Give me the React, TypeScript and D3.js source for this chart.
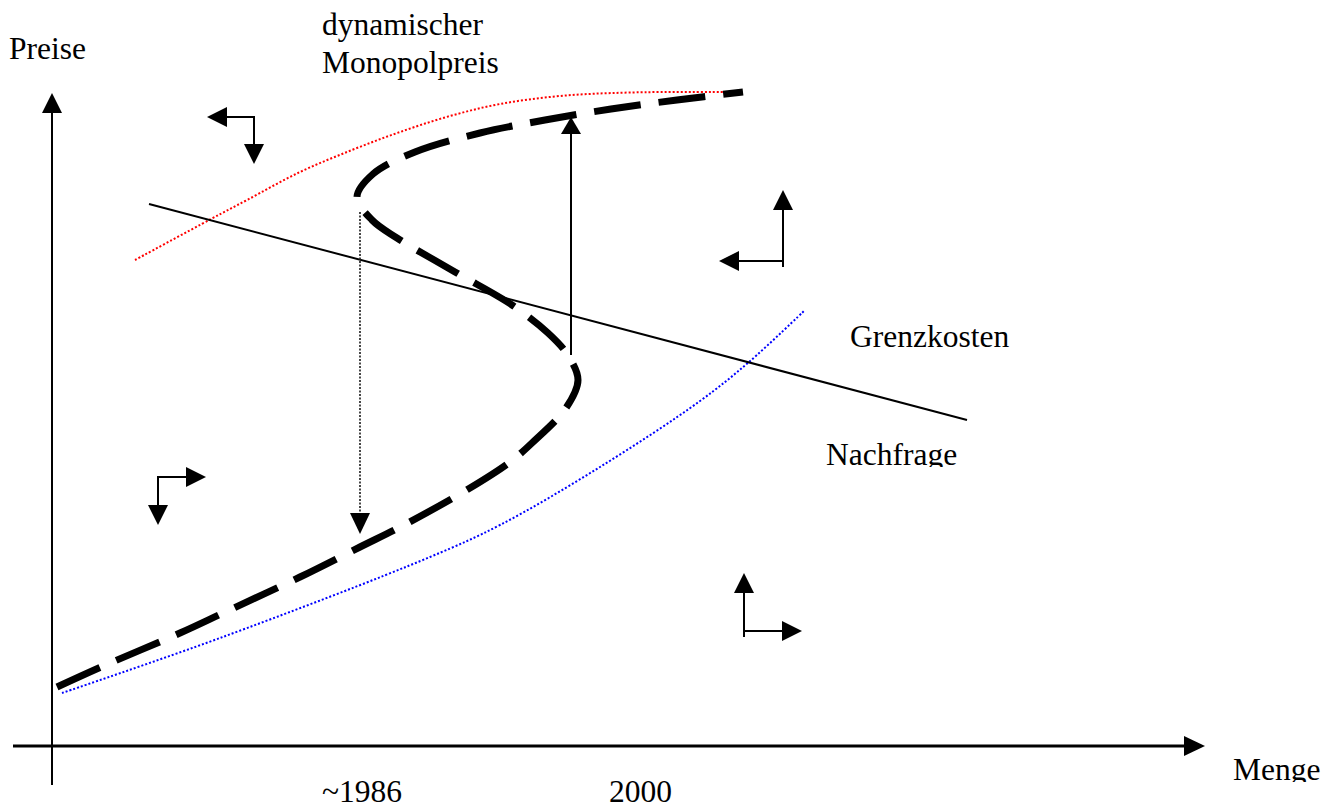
import React from "react";
import * as d3 from "d3";

// Data in chart units (Menge, Preise); origin = axes crossing
const grenzkosten: [number, number][] = [[9.7, 54.2], [91.5, 32.6]];
const monopolRed: [number, number][] = [
  [8.3, 48.6], [15.9, 52.7], [19.5, 54.6], [24.8, 57.4], [30.0, 59.6], [34.8, 61.4],
  [39.8, 63.0], [44.8, 64.2], [50.8, 65.0], [57.8, 65.35], [68.8, 65.4],
];
const nachfrageBlue: [number, number][] = [
  [1.0, 5.3], [16.8, 10.8], [37.8, 18.9], [44.8, 22.1], [54.8, 27.9], [64.8, 34.5],
  [69.7, 38.4], [75.2, 43.5],
];
const sCurve: [number, number][] = [
  [0.5, 5.9], [4.9, 7.9], [12.8, 11.3], [17.1, 13.3], [24.8, 16.9], [30.8, 19.9],
  [35.2, 22.1], [41.8, 25.8], [45.8, 28.4], [48.0, 30.3], [51.4, 33.8], [52.6, 36.6],
  [51.5, 39.2], [49.6, 41.3], [46.0, 44.1], [40.3, 47.4], [34.5, 50.8], [32.0, 52.6],
  [30.5, 54.9], [32.1, 57.2], [36.3, 59.4], [42.8, 61.3], [49.3, 62.6], [55.9, 63.7],
  [62.5, 64.6], [69.1, 65.4],
];
// vertical jump arrows: x, from y, to y (tip)
const jumpUp = { x: 51.9, y0: 39.1, y1: 62.9 };
const jumpDown = { x: 30.8, y0: 53.4, y1: 21.2 };
// corner direction arrows: corner (cx, cy), horizontal tip hx, vertical tip vy
const cornerArrows = [
  { cx: 20.2, cy: 62.9, hx: 15.5, vy: 58.2 },
  { cx: 73.1, cy: 48.5, hx: 66.7, vy: 55.6 },
  { cx: 10.6, cy: 26.9, hx: 15.4, vy: 22.1 },
  { cx: 69.2, cy: 11.5, hx: 75.0, vy: 17.3 },
];
const xTickLabels = [
  { label: "~1986", x: 27.0 },
  { label: "2000", x: 55.7 },
];

const W = 1336;
const H = 810;
const x = d3.scaleLinear().domain([0, 115.3]).range([52, 1205]);
const y = d3.scaleLinear().domain([0, 65.3]).range([746, 93]);

const FONT = "'Liberation Serif', 'Times New Roman', Times, serif";
const FS = 31.5;

function head(tx: number, ty: number, dir: "up" | "down" | "left" | "right", len = 20, hw = 10) {
  let pts: [number, number][];
  if (dir === "up") pts = [[tx, ty], [tx - hw, ty + len], [tx + hw, ty + len]];
  else if (dir === "down") pts = [[tx, ty], [tx - hw, ty - len], [tx + hw, ty - len]];
  else if (dir === "left") pts = [[tx, ty], [tx + len, ty - hw], [tx + len, ty + hw]];
  else pts = [[tx, ty], [tx - len, ty - hw], [tx - len, ty + hw]];
  return <polygon points={pts.map((p) => p.join(",")).join(" ")} fill="#000" />;
}

export default function App() {
  const smooth = d3
    .line<[number, number]>()
    .x((d) => x(d[0]))
    .y((d) => y(d[1]))
    .curve(d3.curveCatmullRom.alpha(0.5));
  const straight = d3
    .line<[number, number]>()
    .x((d) => x(d[0]))
    .y((d) => y(d[1]));

  const ox = x(0);
  const oy = y(0);

  return (
    <svg
      width={W}
      height={H}
      style={{ position: "absolute", left: 0, top: 0, background: "#fff" }}
      fontFamily={FONT}
      fontSize={FS}
    >
      <defs>
        <clipPath id="clipNachfrage">
          <rect x={0} y={0} width={W} height={467} />
        </clipPath>
        <clipPath id="clipMenge">
          <rect x={0} y={0} width={W} height={782} />
        </clipPath>
      </defs>
      <rect width={W} height={H} fill="#fff" />

      {/* axes */}
      <line x1={ox} y1={785} x2={ox} y2={y(65.3) + 18} stroke="#000" strokeWidth={2} />
      {head(ox, y(65.3), "up")}
      <line x1={13} y1={oy} x2={x(115.3) - 18} y2={oy} stroke="#000" strokeWidth={3} />
      {head(x(115.3), oy, "right", 21, 10)}

      {/* curves */}
      <path d={smooth(monopolRed) || ""} fill="none" stroke="#ff0000" strokeWidth={2} strokeDasharray="2 2" />
      <path d={smooth(nachfrageBlue) || ""} fill="none" stroke="#0000ff" strokeWidth={2} strokeDasharray="2 2" />
      <path d={straight(grenzkosten) || ""} fill="none" stroke="#000" strokeWidth={2} />
      <path d={smooth(sCurve) || ""} fill="none" stroke="#000" strokeWidth={7} strokeDasharray="47 18" />

      {/* jump arrows */}
      <line x1={x(jumpUp.x)} y1={y(jumpUp.y0)} x2={x(jumpUp.x)} y2={y(jumpUp.y1) + 16} stroke="#000" strokeWidth={2} />
      {head(x(jumpUp.x), y(jumpUp.y1), "up", 17, 10)}
      <line
        x1={x(jumpDown.x)}
        y1={y(jumpDown.y0)}
        x2={x(jumpDown.x)}
        y2={y(jumpDown.y1) - 18}
        stroke="#333"
        strokeWidth={1.8}
        strokeDasharray="2 1.5"
      />
      {head(x(jumpDown.x), y(jumpDown.y1), "down", 21, 10)}

      {/* corner arrows */}
      {cornerArrows.map((a, i) => {
        const cx = x(a.cx);
        const cy = y(a.cy);
        const hx = x(a.hx);
        const vy = y(a.vy);
        const hdir = hx < cx ? "left" : "right";
        const vdir = vy < cy ? "up" : "down";
        const hEnd = hdir === "left" ? hx + 18 : hx - 18;
        const vEnd = vdir === "up" ? vy + 18 : vy - 18;
        return (
          <g key={i}>
            <line x1={cx} y1={cy} x2={hEnd} y2={cy} stroke="#000" strokeWidth={2} />
            <line x1={cx} y1={cy + (vdir === "up" ? 6 : -1)} x2={cx} y2={vEnd} stroke="#000" strokeWidth={2} />
            {head(hx, cy, hdir as any)}
            {head(cx, vy, vdir as any)}
          </g>
        );
      })}

      {/* labels */}
      <text x={9} y={59}>Preise</text>
      <text x={322} y={35}>dynamischer</text>
      <text x={322} y={73}>Monopolpreis</text>
      <text x={850} y={347}>Grenzkosten</text>
      <g clipPath="url(#clipNachfrage)">
        <text x={826} y={465}>Nachfrage</text>
      </g>
      <g clipPath="url(#clipMenge)">
        <text x={1233} y={780}>Menge</text>
      </g>
      {xTickLabels.map((t) => (
        <text key={t.label} x={x(t.x)} y={802}>
          {t.label}
        </text>
      ))}
    </svg>
  );
}
